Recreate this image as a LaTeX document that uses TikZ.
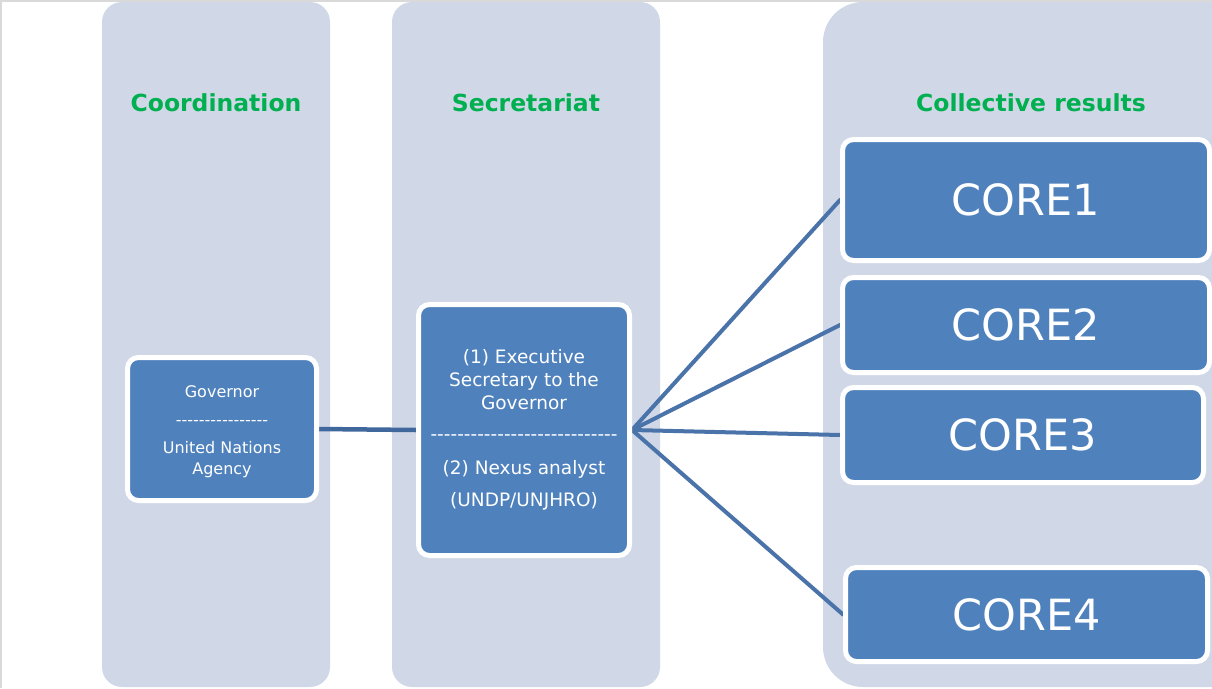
\documentclass[tikz,border=0pt]{standalone}
\usepackage{fontspec}
\setmainfont[Ligatures=TeXOff]{DejaVu Sans}
\pgfdeclarelayer{bg}
\pgfdeclarelayer{mid}
\pgfsetlayers{bg,mid,main}
\definecolor{colfill}{HTML}{D0D8E8}
\definecolor{boxblue}{HTML}{4F81BD}
\definecolor{linkblue}{HTML}{41689C}
\definecolor{fanblue}{HTML}{4A73AA}
\definecolor{titlegreen}{HTML}{00B050}
\definecolor{framegray}{HTML}{D9D9D9}
\tikzset{
  column/.style={fill=colfill, draw=none, inner sep=0pt},
  bluebox/.style={fill=boxblue, draw=white, line width=5pt, rounded corners=11pt,
    text=white, align=center, inner sep=0pt},
  coltitle/.style={text=titlegreen, font=\bfseries\fontsize{23.5}{28}\selectfont, inner sep=0pt},
  govlink/.style={draw=linkblue, line width=4.5pt},
  fanlink/.style={draw=fanblue, line width=4pt},
}
\begin{document}
\begin{tikzpicture}[x=1pt,y=-1pt]
\useasboundingbox (0,0) rectangle (1212,688);
\clip (0,0) rectangle (1212,688);

% background, frame and columns
\begin{pgfonlayer}{bg}
\fill[white] (0,0) rectangle (1212,688);
\fill[framegray] (0,0) rectangle (1212,2);
\fill[framegray] (0,0) rectangle (2,688);
\node[column, rounded corners=20pt, minimum width=228pt, minimum height=685pt] (colA) at (216,344.5) {};
\node[column, rounded corners=20pt, minimum width=268pt, minimum height=685pt] (colB) at (526,344.5) {};
\node[column, rounded corners=40pt, minimum width=460pt, minimum height=685pt] (colC) at (1053,344.5) {};
\end{pgfonlayer}

% titles
\node[coltitle] (tA) at (216,103) {Coordination};
\node[coltitle] (tB) at (526,103) {Secretariat};
\node[coltitle] (tC) at (1031,103) {Collective results};

% governor box
\node[bluebox, minimum width=189pt, minimum height=143pt,
      font=\fontsize{16}{21}\selectfont] (gov) at (222,429)
  {\rule{0pt}{18pt}Governor\\[7pt]----------------\\[7pt]United Nations\\Agency};

% secretariat box
\node[bluebox, minimum width=211pt, minimum height=251pt,
      font=\fontsize{18.5}{23}\selectfont] (sec) at (524,430)
  {(1) Executive\\Secretary to the\\Governor\\[8pt]----------------------------\\[11pt](2) Nexus analyst\\[9pt](UNDP/UNJHRO)};

% core boxes
\node[bluebox, minimum width=367pt, minimum height=121pt,
      font=\fontsize{43}{50}\selectfont] (core1) at (1026,200) {CORE1};
\node[bluebox, minimum width=367pt, minimum height=95pt,
      font=\fontsize{43}{50}\selectfont] (core2) at (1026,325) {CORE2};
\node[bluebox, minimum width=361pt, minimum height=95pt,
      font=\fontsize{43}{50}\selectfont] (core3) at (1023,435) {CORE3};
\node[bluebox, minimum width=362pt, minimum height=94pt,
      font=\fontsize{43}{50}\selectfont] (core4) at (1026.5,614.5) {CORE4};

% connectors
\begin{pgfonlayer}{mid}
\draw[govlink] (gov.east) -- (sec.west);
\draw[fanlink, line cap=round] (sec.east) -- (core1.west);
\draw[fanlink, line cap=round] (sec.east) -- (core2.west);
\draw[fanlink, line cap=round] (sec.east) -- (core3.west);
\draw[fanlink, line cap=round] (sec.east) -- (core4.west);
\end{pgfonlayer}
\end{tikzpicture}
\end{document}
